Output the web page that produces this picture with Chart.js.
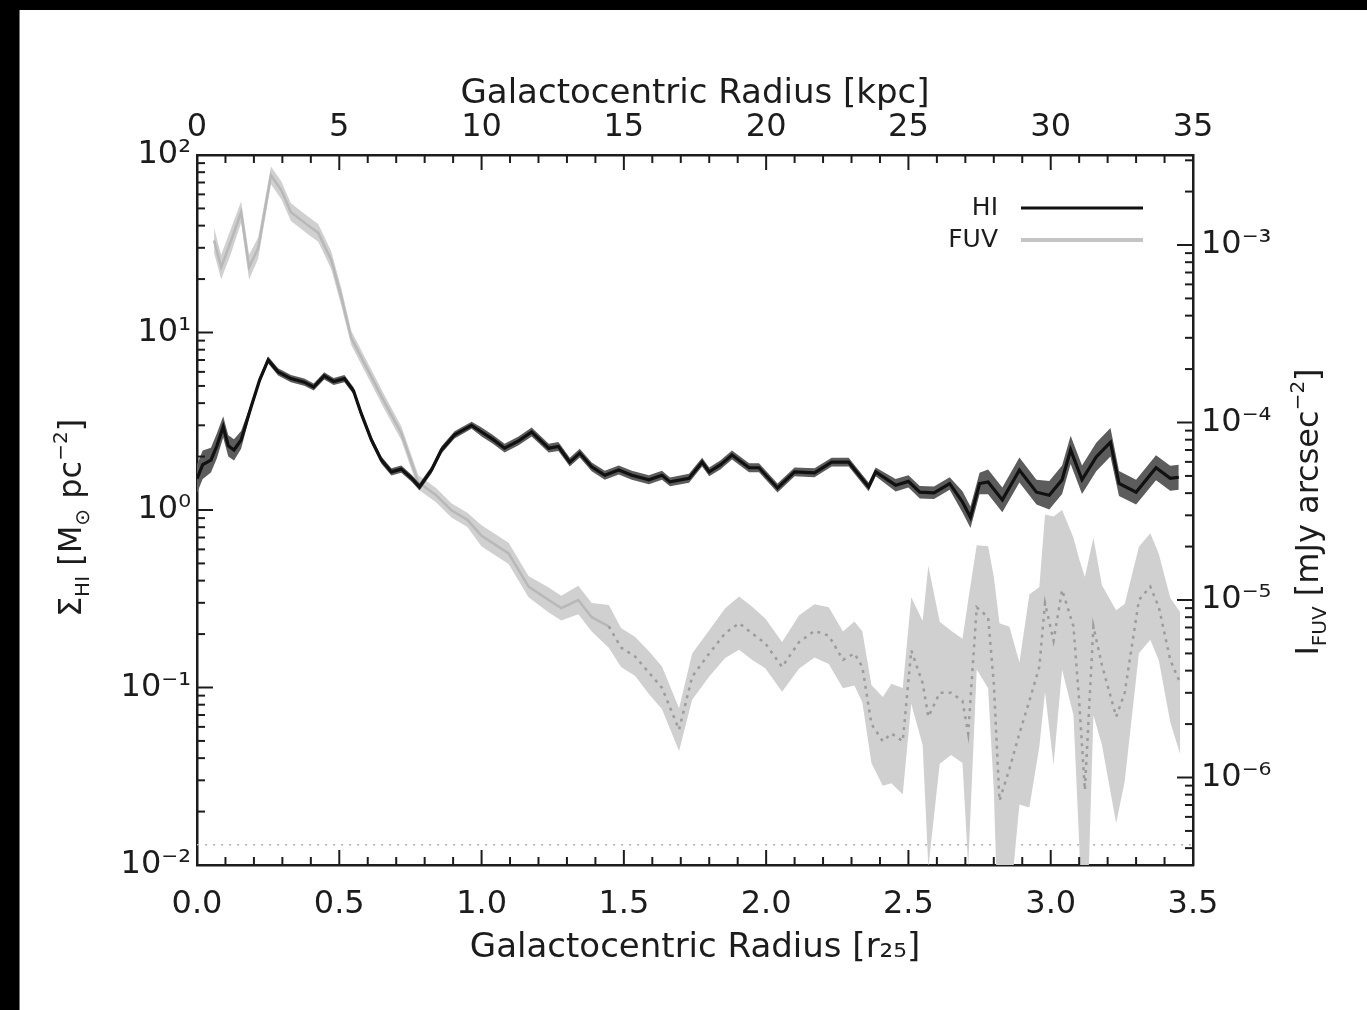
<!DOCTYPE html>
<html>
<head>
<meta charset="utf-8">
<script src="https://cdn.jsdelivr.net/npm/chart.js@4.4.1/dist/chart.umd.min.js"></script>
<style>
    html, body { margin: 0; padding: 0; background: #000; }
    #frame { position: absolute; left: 19px; top: 10px; width: 1348px; height: 1000px; background: #fff; border-left: 1px solid #777; box-sizing: border-box; }
    canvas { display: block; }
</style>
</head>
<body>
<div id="frame"><canvas id="chart-profile" width="1347" height="1000"></canvas></div>
<script>
// ============================================================
// DATA
// ============================================================
// HI surface density, M_sun pc^-2, against radius in r25
const radiusHI = [0.00, 0.02, 0.049, 0.07, 0.092, 0.11, 0.13, 0.155, 0.19, 0.22, 0.25, 0.285, 0.33, 0.377, 0.41, 0.447, 0.48, 0.518, 0.55, 0.577,
    0.613, 0.648, 0.683, 0.718, 0.754, 0.782, 0.824, 0.859, 0.905, 0.965, 1.0, 1.04, 1.081, 1.13, 1.176, 1.236, 1.27, 1.31, 1.345, 1.387,
    1.433, 1.482, 1.528, 1.588, 1.634, 1.662, 1.729, 1.775, 1.80, 1.84, 1.88, 1.94, 1.975, 2.04, 2.10, 2.17, 2.23, 2.29, 2.36, 2.385,
    2.455, 2.50, 2.54, 2.59, 2.645, 2.69, 2.718, 2.75, 2.78, 2.83, 2.89, 2.95, 2.995, 3.04, 3.07, 3.11, 3.16, 3.21, 3.24, 3.30,
    3.37, 3.42, 3.45];
const sigmaHI = [1.5, 1.8, 1.91, 2.3, 2.94, 2.3, 2.18, 2.48, 3.8, 5.4, 7.0, 6.0, 5.5, 5.25, 4.93, 5.7, 5.3, 5.5, 4.7, 3.5,
    2.48, 1.91, 1.64, 1.70, 1.51, 1.35, 1.68, 2.18, 2.65, 3.0, 2.75, 2.5, 2.23, 2.45, 2.75, 2.23, 2.28, 1.86, 2.09, 1.75,
    1.57, 1.68, 1.57, 1.48, 1.57, 1.44, 1.51, 1.86, 1.64, 1.8, 2.04, 1.73, 1.73, 1.33, 1.64, 1.62, 1.86, 1.86, 1.35, 1.64,
    1.38, 1.45, 1.26, 1.25, 1.41, 1.11, 0.91, 1.41, 1.44, 1.14, 1.68, 1.26, 1.21, 1.48, 2.18, 1.48, 1.99, 2.41, 1.41, 1.26,
    1.73, 1.51, 1.53];
// half width of the HI error band, dex
const errHI = [0.08, 0.08, 0.07, 0.07, 0.06, 0.06, 0.06, 0.05, 0.02, 0.02, 0.02, 0.02, 0.02, 0.02, 0.02, 0.02, 0.02, 0.02, 0.02, 0.02,
    0.02, 0.02, 0.02, 0.02, 0.02, 0.02, 0.02, 0.02, 0.02, 0.02, 0.025, 0.025, 0.025, 0.025, 0.025, 0.025, 0.025, 0.025, 0.025, 0.025,
    0.025, 0.025, 0.025, 0.025, 0.025, 0.025, 0.025, 0.025, 0.025, 0.025, 0.025, 0.025, 0.025, 0.025, 0.025, 0.025, 0.025, 0.025, 0.025, 0.025,
    0.035, 0.035, 0.035, 0.035, 0.035, 0.06, 0.06, 0.06, 0.07, 0.07, 0.07, 0.07, 0.08, 0.08, 0.08, 0.08, 0.08, 0.08, 0.07, 0.07,
    0.07, 0.07, 0.07];

// FUV intensity, mJy arcsec^-2
const radiusFUV = [0.06, 0.085, 0.12, 0.155, 0.183, 0.215, 0.26, 0.296, 0.33, 0.39, 0.426, 0.472, 0.507, 0.542, 0.60, 0.66, 0.718, 0.778, 0.84, 0.894,
    0.95, 1.0, 1.095, 1.165, 1.236, 1.28, 1.34, 1.387, 1.447, 1.49, 1.54, 1.588, 1.634, 1.694, 1.74, 1.80, 1.856, 1.905, 1.95, 1.997,
    2.056, 2.116, 2.17, 2.22, 2.27, 2.31, 2.338, 2.37, 2.41, 2.44, 2.48, 2.51, 2.55, 2.57, 2.61, 2.65, 2.69, 2.71, 2.74, 2.78,
    2.80, 2.82, 2.855, 2.89, 2.925, 2.96, 2.98, 3.01, 3.04, 3.08, 3.10, 3.12, 3.15, 3.18, 3.23, 3.26, 3.31, 3.35, 3.38, 3.42,
    3.455];
const intensityFUV = [1.06e-3, 7.5e-4, 1.06e-3, 1.53e-3, 7.5e-4, 9.6e-4, 2.47e-3, 2.04e-3, 1.53e-3, 1.29e-3, 1.17e-3, 8.2e-4, 5.1e-4, 3.0e-4, 1.98e-4, 1.29e-4, 8.7e-5, 4.6e-5, 3.9e-5, 3.2e-5,
    2.83e-5, 2.3e-5, 1.83e-5, 1.19e-5, 1.0e-5, 9.0e-6, 1.0e-5, 8.0e-6, 7.1e-6, 5.4e-6, 4.8e-6, 3.9e-6, 3.2e-6, 1.86e-6, 3.7e-6, 5.0e-6, 6.5e-6, 7.4e-6, 6.5e-6, 5.7e-6,
    4.2e-6, 5.8e-6, 6.7e-6, 6.3e-6, 4.6e-6, 5.0e-6, 4.2e-6, 2.0e-6, 1.6e-6, 1.77e-6, 1.6e-6, 5.2e-6, 3.4e-6, 2.2e-6, 3.0e-6, 3.0e-6, 2.7e-6, 1.77e-6, 9.1e-6, 8.0e-6,
    3.4e-6, 7.4e-7, 1.12e-6, 1.77e-6, 2.7e-6, 4.2e-6, 9.6e-6, 5.9e-6, 1.14e-5, 7.1e-6, 2.7e-6, 8.5e-7, 7.1e-6, 4.3e-6, 2.2e-6, 3.0e-6, 1.0e-5, 1.19e-5, 9.1e-6, 4.6e-6,
    3.4e-6];
// half width of the FUV error band, dex
const errFUV = [0.07, 0.07, 0.07, 0.06, 0.07, 0.06, 0.05, 0.05, 0.05, 0.05, 0.05, 0.05, 0.05, 0.04, 0.04, 0.04, 0.04, 0.04, 0.04, 0.04,
    0.04, 0.06, 0.06, 0.06, 0.07, 0.07, 0.08, 0.08, 0.12, 0.11, 0.11, 0.12, 0.12, 0.12, 0.13, 0.13, 0.14, 0.15, 0.15, 0.14,
    0.14, 0.15, 0.15, 0.16, 0.16, 0.18, 0.2, 0.22, 0.25, 0.28, 0.3, 0.3, 0.35, 0.85, 0.4, 0.35, 0.35, 0.75, 0.35, 0.4,
    0.6, 1.0, 0.8, 0.4, 0.6, 0.45, 0.5, 0.7, 0.45, 0.5, 0.8, 1.2, 0.5, 0.45, 0.6, 0.5, 0.3, 0.3, 0.3, 0.35,
    0.4];

// dotted background level (left axis units)
const limitLevel = 0.013;

// axis ranges
const radiusRange = [0, 3.5];
const kpcRange = [0, 35];
const sigmaRange = [0.01, 100];
const fuvRange = [3.214e-7, 3.214e-3];

// ============================================================
// STYLE HELPERS
// ============================================================
const FONT = '"DejaVu Sans", sans-serif';
const INK = '#1c1c1c';

const sup = n => String(n).split('').map(c => '⁻⁰¹²³⁴⁵⁶⁷⁸⁹'['-0123456789'.indexOf(c)]).join('');
const decadeLabel = v => {
    const e = Math.log10(v);
    const r = Math.round(e);
    return Math.abs(e - r) < 1e-6 ? '10' + sup(r) : '';
};

const pts = (xs, ys) => xs.map((x, i) => ({ x, y: ys[i] }));
const band = (xs, ys, err, sign) => xs.map((x, i) => ({ x, y: ys[i] * Math.pow(10, sign * err[i]) }));

// ============================================================
// PLUGINS: inward IDL-style ticks, rotated rich titles, line key
// ============================================================
const inwardTicks = {
    id: 'inwardTicks',
    afterDatasetsDraw(chart) {
        const { ctx, chartArea: a, scales } = chart;
        ctx.save();
        ctx.strokeStyle = INK;
        ctx.lineWidth = 2;
        const seg = (x1, y1, x2, y2) => { ctx.beginPath(); ctx.moveTo(x1, y1); ctx.lineTo(x2, y2); ctx.stroke(); };
        for (let i = 0; i <= 35; i++) {
            const len = i % 5 === 0 ? 15 : 8;
            const xb = scales.x.getPixelForValue(i / 10);
            seg(xb, a.bottom, xb, a.bottom - len);
            const xt = scales.x2.getPixelForValue(i);
            seg(xt, a.top, xt, a.top + len);
        }
        [[scales.y, a.left, 1], [scales.y2, a.right, -1]].forEach(([s, edge, dir]) => {
            for (let e = Math.floor(Math.log10(s.min)); e <= Math.ceil(Math.log10(s.max)); e++) {
                for (let m = 1; m <= 9; m++) {
                    const v = m * Math.pow(10, e);
                    if (v < s.min || v > s.max) continue;
                    const py = s.getPixelForValue(v);
                    seg(edge, py, edge + dir * (m === 1 ? 16 : 8), py);
                }
            }
        });
        ctx.restore();
    }
};

function drawRich(ctx, parts, cx, cy, size) {
    const fontOf = p => `${p.s ? Math.round(size * 0.62) : size}px ${FONT}`;
    const widths = parts.map(p => { ctx.font = fontOf(p); return ctx.measureText(p.t).width; });
    const total = widths.reduce((a, b) => a + b, 0);
    ctx.save();
    ctx.translate(cx, cy);
    ctx.rotate(-Math.PI / 2);
    ctx.fillStyle = INK;
    ctx.textAlign = 'left';
    ctx.textBaseline = 'alphabetic';
    let x = -total / 2;
    parts.forEach((p, i) => {
        ctx.font = fontOf(p);
        const dy = p.s === 'sub' ? size * 0.28 : p.s === 'sup' ? -size * 0.42 : 0;
        ctx.fillText(p.t, x, size * 0.36 + dy);
        x += widths[i];
    });
    ctx.restore();
}

const sideTitles = {
    id: 'sideTitles',
    afterDraw(chart) {
        const { ctx, chartArea: a } = chart;
        const cy = (a.top + a.bottom) / 2;
        drawRich(ctx, [{ t: 'Σ' }, { t: 'HI', s: 'sub' }, { t: ' [M' }, { t: '⊙', s: 'sub' }, { t: ' pc' }, { t: '−2', s: 'sup' }, { t: ']' }],
            a.left - 128, cy + 8, 32);
        drawRich(ctx, [{ t: 'I' }, { t: 'FUV', s: 'sub' }, { t: ' [mJy arcsec' }, { t: '−2', s: 'sup' }, { t: ']' }],
            a.right + 113, cy + 2, 32);
    }
};

const lineKey = {
    id: 'lineKey',
    afterDraw(chart) {
        const { ctx, chartArea: a } = chart;
        ctx.save();
        ctx.font = `25px ${FONT}`;
        ctx.textAlign = 'right';
        ctx.textBaseline = 'middle';
        [[0, 53, 3], [3, 85, 4]].forEach(([idx, dy, w]) => {
            const ds = chart.data.datasets[idx];
            const y = a.top + dy;
            ctx.fillStyle = INK;
            ctx.fillText(ds.label, a.right - 195, y);
            ctx.strokeStyle = ds.keyColor;
            ctx.lineWidth = w;
            ctx.beginPath();
            ctx.moveTo(a.right - 172, y);
            ctx.lineTo(a.right - 50, y);
            ctx.stroke();
        });
        ctx.restore();
    }
};

// ============================================================
// CHART
// ============================================================
const tickFont = { family: FONT, size: 32 };
const titleFont = { family: FONT, size: 34 };
const axisBorder = { display: true, color: INK, width: 2.5 };
const noGrid = { display: false, drawTicks: false };

new Chart(document.getElementById('chart-profile'), {
    type: 'line',
    data: {
        datasets: [
            {
                label: 'HI', keyColor: '#111',
                data: pts(radiusHI, sigmaHI), yAxisID: 'y', xAxisID: 'x',
                borderColor: '#111', borderWidth: 3.2, pointRadius: 0, tension: 0
            },
            {
                label: 'HI upper', data: band(radiusHI, sigmaHI, errHI, 1), yAxisID: 'y', xAxisID: 'x',
                borderWidth: 0, pointRadius: 0, fill: false
            },
            {
                label: 'HI lower', data: band(radiusHI, sigmaHI, errHI, -1), yAxisID: 'y', xAxisID: 'x',
                borderWidth: 0, pointRadius: 0, fill: '-1', backgroundColor: '#5c5c5c'
            },
            {
                label: 'FUV', keyColor: '#c4c4c4',
                data: pts(radiusFUV, intensityFUV), yAxisID: 'y2', xAxisID: 'x',
                borderColor: '#b8b8b8', borderWidth: 2.5, pointRadius: 0, tension: 0,
                segment: {
                    borderDash: c => c.p0.parsed.x > 1.42 ? [3, 5] : undefined,
                    borderColor: c => c.p0.parsed.x > 1.42 ? '#9c9c9c' : undefined
                }
            },
            {
                label: 'FUV upper', data: band(radiusFUV, intensityFUV, errFUV, 1), yAxisID: 'y2', xAxisID: 'x',
                borderWidth: 0, pointRadius: 0, fill: false
            },
            {
                label: 'FUV lower', data: band(radiusFUV, intensityFUV, errFUV, -1), yAxisID: 'y2', xAxisID: 'x',
                borderWidth: 0, pointRadius: 0, fill: '-1', backgroundColor: '#d0d0d0'
            },
            {
                label: 'limit', data: [{ x: radiusRange[0], y: limitLevel }, { x: radiusRange[1], y: limitLevel }],
                yAxisID: 'y', xAxisID: 'x',
                borderColor: '#b0b0b0', borderWidth: 1.5, borderDash: [2, 6], pointRadius: 0
            }
        ]
    },
    options: {
        responsive: false,
        animation: false,
        events: [],
        layout: { padding: 0 },
        plugins: { legend: { display: false }, tooltip: { enabled: false } },
        scales: {
            x: {
                type: 'linear', position: 'bottom', min: radiusRange[0], max: radiusRange[1],
                afterFit: s => { s.height = 145; },
                ticks: { stepSize: 0.5, padding: 20, color: INK, font: tickFont, maxRotation: 0, autoSkip: false, callback: v => v.toFixed(1) },
                grid: noGrid, border: axisBorder,
                title: { display: true, text: 'Galactocentric Radius [r₂₅]', color: INK, font: titleFont, padding: { top: 0, bottom: 41 } }
            },
            x2: {
                type: 'linear', position: 'top', min: kpcRange[0], max: kpcRange[1],
                afterFit: s => { s.height = 145; },
                ticks: { stepSize: 5, padding: 8, color: INK, font: tickFont, maxRotation: 0, autoSkip: false, callback: v => String(v) },
                grid: noGrid, border: axisBorder,
                title: { display: true, text: 'Galactocentric Radius [kpc]', color: INK, font: titleFont, padding: { top: 64, bottom: 0 } }
            },
            y: {
                type: 'logarithmic', position: 'left', min: sigmaRange[0], max: sigmaRange[1],
                afterFit: s => { s.width = 177; },
                ticks: { padding: 6, color: INK, font: tickFont, autoSkip: false, callback: decadeLabel },
                grid: noGrid, border: axisBorder
            },
            y2: {
                type: 'logarithmic', position: 'right', min: fuvRange[0], max: fuvRange[1],
                afterFit: s => { s.width = 174; },
                ticks: { padding: 8, color: INK, font: tickFont, autoSkip: false, callback: decadeLabel },
                grid: noGrid, border: axisBorder
            }
        }
    },
    plugins: [inwardTicks, sideTitles, lineKey]
});
</script>
</body>
</html>
